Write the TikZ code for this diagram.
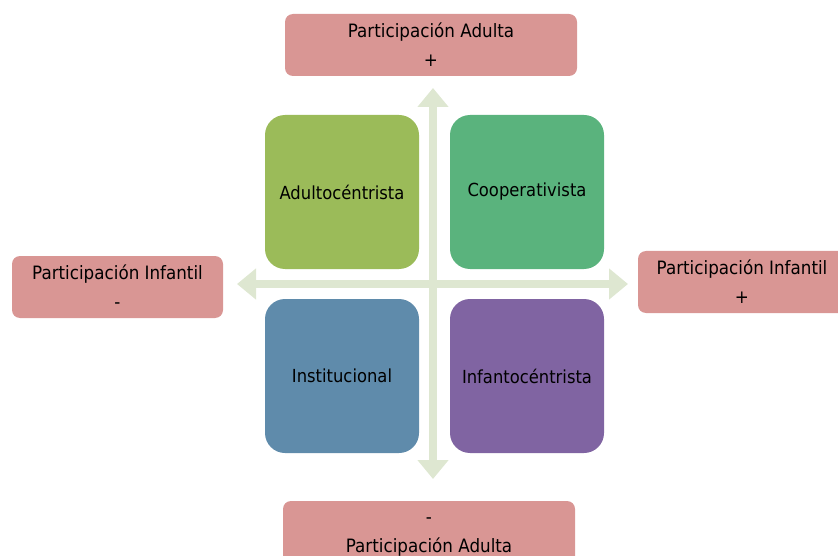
\documentclass[tikz,border=0pt]{standalone}
\usepackage{fontspec}
\setmainfont[FakeStretch=0.91]{DejaVu Sans}
\usepackage{xcolor}
\usepackage{tikz}
\usetikzlibrary{arrows.meta}

\definecolor{polopink}{RGB}{217,150,148}
\definecolor{axisgreen}{RGB}{222,231,209}
\definecolor{quadolive}{RGB}{155,187,89}
\definecolor{quadgreen}{RGB}{90,179,125}
\definecolor{quadblue}{RGB}{95,139,171}
\definecolor{quadpurple}{RGB}{128,100,162}

\begin{document}
\begin{tikzpicture}[x=1pt,y=-1pt,
  polo/.style={fill=polopink,rounded corners=8pt,align=center,inner sep=0pt,
    font=\fontsize{18.4}{29}\selectfont},
  cuadrante/.style={rounded corners=20pt,minimum width=154pt,minimum height=154pt,
    inner sep=0pt,font=\fontsize{18}{29}\selectfont},
  eje/.style={axisgreen,line width=7.5pt,{Triangle[width=30pt,length=19pt]}-{Triangle[width=30pt,length=19pt]}}]
\clip (0,0) rectangle (838,556);

% Axes
\coordinate (arriba) at (433,88);
\coordinate (abajo) at (433,479);
\coordinate (izq) at (237,284);
\coordinate (der) at (628,284);
\draw[eje] (abajo) -- (arriba);
\draw[eje] (izq) -- (der);

% Quadrants
\node[cuadrante,fill=quadolive] (adulto) at (342,192) {Adultocéntrista};
\node[cuadrante,fill=quadgreen] (coop) at (527,192) {Cooperativista};
\node[cuadrante,fill=quadblue] (inst) at (342,376) {Institucional};
\node[cuadrante,fill=quadpurple] (infanto) at (527,376) {Infantocéntrista};

% Poles
\node[polo,minimum width=292pt,minimum height=62pt] (adultamas) at (431,45) {Participación Adulta\\+};
\node[polo,minimum width=292pt,minimum height=72pt] (adultamenos) at (429,537) {-\\Participación Adulta};
\node[polo,minimum width=211pt,minimum height=62pt] (infantilmenos) at (117.5,287) {Participación Infantil\\-};
\node[polo,minimum width=208pt,minimum height=62pt] (infantilmas) at (742,282) {Participación Infantil\\+};
\end{tikzpicture}
\end{document}
